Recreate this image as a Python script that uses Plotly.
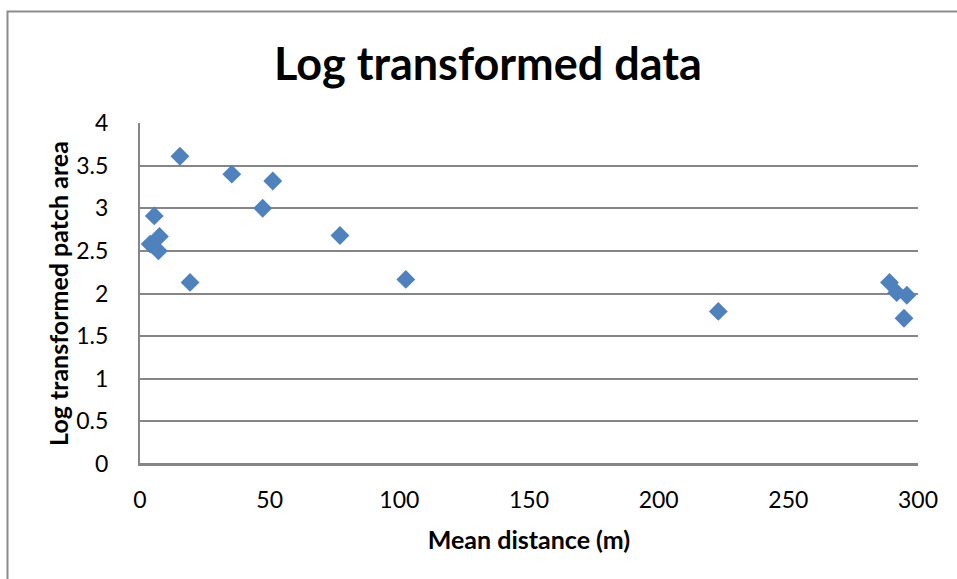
import plotly.graph_objects as go

mean_distance = [15.4, 35.4, 51.2, 47.3, 5.5, 7.5, 3.9, 7.1, 19.3, 77.1, 102.5, 223.0, 289.0, 291.8, 295.7, 294.6]
log_patch_area = [3.61, 3.40, 3.32, 3.00, 2.91, 2.67, 2.58, 2.50, 2.13, 2.68, 2.165, 1.79, 2.13, 2.01, 1.98, 1.71]
x_ticks = [0, 50, 100, 150, 200, 250, 300]
y_ticks = [0, 0.5, 1, 1.5, 2, 2.5, 3, 3.5, 4]
y_tick_text = ["0", "0.5", "1", "1.5", "2", "2.5", "3", "3.5", "4"]

W, H = 957, 579
L, R, T, B = 140, 918, 123, 464

fig = go.Figure(go.Scatter(
    x=mean_distance, y=log_patch_area, mode="markers",
    marker=dict(symbol="diamond", size=14.5, color="#4F81BD", line=dict(width=0)),
    showlegend=False,
))

def px(xp):
    return (xp - L) / (R - L)

def py(yp):
    return (B - yp) / (B - T)

fig.update_layout(
    width=W, height=H,
    margin=dict(l=L, r=W - R, t=T, b=H - B, pad=0),
    paper_bgcolor="white", plot_bgcolor="white",
    font=dict(family="Lato, Carlito, sans-serif", color="#000000", size=23),
    title=dict(text="<b>Log transformed data</b>", x=488 / W, xref="container", xanchor="center",
               y=1 - 64 / H, yanchor="middle", yref="container",
               font=dict(size=45, family="Lato, sans-serif", color="#000000")),
    xaxis=dict(range=[0, 300], tickvals=x_ticks,
               showgrid=False, zeroline=False, showline=True, linecolor="#868686", linewidth=2,
               ticks="", tickfont=dict(size=23), ticklabelstandoff=14,
               title=dict(text="<b>Mean distance (m)</b>", font=dict(size=25), standoff=20)),
    yaxis=dict(range=[0, 4], tickvals=y_ticks, ticktext=y_tick_text,
               showgrid=True, gridcolor="#868686", gridwidth=2,
               zeroline=False, showline=True, linecolor="#868686", linewidth=2,
               ticks="", tickfont=dict(size=23), ticklabelstandoff=25,
               title=dict(text="<b>Log transformed patch area</b>", font=dict(size=25), standoff=1)),
    shapes=[
        dict(type="rect", xref="paper", yref="paper",
             x0=px(7.5), x1=px(W + 10), y0=py(H + 10), y1=py(11.5),
             line=dict(color="#8C8C8C", width=2), fillcolor="rgba(0,0,0,0)", layer="below"),
        dict(type="line", xref="paper", yref="paper", x0=0, x1=1, y0=0, y1=0,
             line=dict(color="#868686", width=2)),
    ],
)

fig.write_html("out.html", config={"displayModeBar": False},
               post_script="document.body.style.margin='0';document.body.style.overflow='hidden';")
